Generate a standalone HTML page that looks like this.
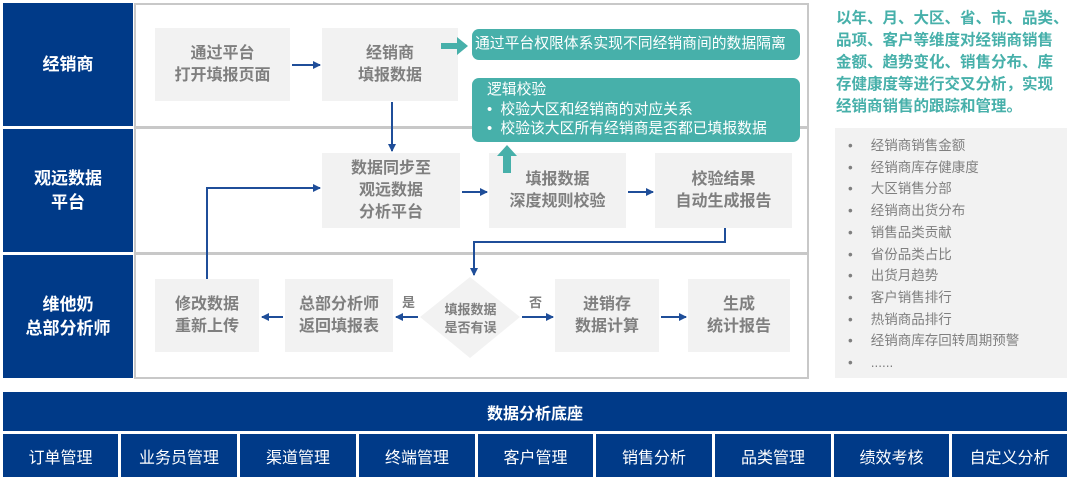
<!DOCTYPE html>
<html><head><meta charset="utf-8"><style>
body{margin:0;width:1080px;height:478px;background:#fff;position:relative;overflow:hidden;font-family:"Liberation Sans","Noto Sans CJK SC",sans-serif}
div{position:absolute;box-sizing:border-box}
.lab{background:#003a88;color:#fff;font-weight:bold;font-size:17px;display:flex;align-items:center;justify-content:center;text-align:center;line-height:24px;left:3px;width:130px}
.bx{background:#f2f2f2;color:#7f7f7f;font-weight:bold;font-size:16px;display:flex;align-items:center;justify-content:center;text-align:center;line-height:22px}
.teal{background:#47b0aa;color:#fff;font-size:14.8px;border-radius:7px}
.cell{background:#003a88;color:#fff;font-size:16px;display:flex;align-items:center;justify-content:center;top:434px;height:43px}
.li{left:848px;font-size:13.5px;color:#7f7f7f;line-height:21.7px}
</style></head><body>
<div style="left:134px;top:3px;width:675px;height:376px;border:2px solid #c8c8c8"></div>
<div style="left:134px;top:126px;width:675px;height:3px;background:#c8c8c8"></div>
<div style="left:134px;top:252px;width:675px;height:3px;background:#c8c8c8"></div>
<div class="lab" style="top:3px;height:123px">经销商</div>
<div class="lab" style="top:129px;height:123px">观远数据<br>平台</div>
<div class="lab" style="top:255px;height:123px">维他奶<br>总部分析师</div>

<div class="bx" style="left:155px;top:28px;width:135px;height:73px">通过平台<br>打开填报页面</div>
<div class="bx" style="left:322px;top:28px;width:136px;height:73px">经销商<br>填报数据</div>
<div class="bx" style="left:322px;top:153px;width:138px;height:75px">数据同步至<br>观远数据<br>分析平台</div>
<div class="bx" style="left:489px;top:153px;width:137px;height:75px">填报数据<br>深度规则校验</div>
<div class="bx" style="left:655px;top:153px;width:137px;height:75px">校验结果<br>自动生成报告</div>

<div class="teal" style="left:472px;top:29px;width:328px;height:31px;line-height:31px;padding-left:3px;white-space:nowrap">通过平台权限体系实现不同经销商间的数据隔离</div>
<div class="teal" style="left:472px;top:78px;width:328px;height:64px;line-height:19.5px;padding:3px 0 0 15px;white-space:nowrap">逻辑校验<br>•&nbsp; 校验大区和经销商的对应关系<br>•&nbsp; 校验该大区所有经销商是否都已填报数据</div>

<div class="bx" style="left:155px;top:279px;width:104px;height:73px">修改数据<br>重新上传</div>
<div class="bx" style="left:285px;top:279px;width:108px;height:73px">总部分析师<br>返回填报表</div>
<div class="bx" style="left:555px;top:279px;width:104px;height:73px">进销存<br>数据计算</div>
<div class="bx" style="left:688px;top:279px;width:102px;height:73px">生成<br>统计报告</div>

<svg style="position:absolute;left:0;top:0" width="1080" height="478">
<defs><marker id="a" markerWidth="8" markerHeight="8" refX="7" refY="4" orient="auto" markerUnits="userSpaceOnUse"><path d="M0,0L8,4L0,8z" fill="#1f4e99"/></marker></defs>
<polygon points="420,317 470,277 520,317 470,358" fill="#f2f2f2"/>
<g stroke="#1f4e99" stroke-width="2" fill="none" marker-end="url(#a)">
<line x1="292" y1="65" x2="320" y2="65"/>
<line x1="392" y1="102" x2="392" y2="151"/>
<line x1="462" y1="192" x2="487" y2="192"/>
<line x1="628" y1="192" x2="653" y2="192"/>
<polyline points="725,228 725,242 474,242 474,275"/>
<line x1="418" y1="317" x2="396" y2="317"/>
<line x1="283" y1="317" x2="262" y2="317"/>
<line x1="522" y1="317" x2="553" y2="317"/>
<line x1="661" y1="317" x2="686" y2="317"/>
<polyline points="207,279 207,188 320,188"/>
</g>
<path d="M441,43h16v-6l11,9l-11,9v-6h-16z" fill="#47b0aa"/>
<path d="M503,173v-17h-6l10,-11l10,11h-6v17z" fill="#47b0aa"/>
</svg>
<div style="left:443px;top:319px;width:55px;font-size:13px;font-weight:bold;color:#7f7f7f;text-align:center;line-height:18px;transform:translateY(-50%)">填报数据<br>是否有误</div>
<div style="left:402px;top:292px;font-size:13px;font-weight:bold;color:#7f7f7f">是</div>
<div style="left:529px;top:292px;font-size:13px;font-weight:bold;color:#7f7f7f">否</div>

<div style="left:836px;top:8px;width:244px;color:#47b0aa;font-weight:bold;font-size:15.5px;line-height:22px;white-space:nowrap">以年、月、大区、省、市、品类、<br>品项、客户等维度对经销商销售<br>金额、趋势变化、销售分布、库<br>存健康度等进行交叉分析，实现<br>经销商销售的跟踪和管理。</div>
<div style="left:835px;top:128px;width:232px;height:250px;background:#f2f2f2"></div>
<div class="li" style="top:135px">•<span style="margin-left:18px">经销商销售金额</span><br>•<span style="margin-left:18px">经销商库存健康度</span><br>•<span style="margin-left:18px">大区销售分部</span><br>•<span style="margin-left:18px">经销商出货分布</span><br>•<span style="margin-left:18px">销售品类贡献</span><br>•<span style="margin-left:18px">省份品类占比</span><br>•<span style="margin-left:18px">出货月趋势</span><br>•<span style="margin-left:18px">客户销售排行</span><br>•<span style="margin-left:18px">热销商品排行</span><br>•<span style="margin-left:18px">经销商库存回转周期预警</span><br>•<span style="margin-left:18px">......</span></div>

<div style="left:3px;top:392px;width:1064px;height:39px;background:#003a88;color:#fff;font-weight:bold;font-size:16px;display:flex;align-items:center;justify-content:center">数据分析底座</div>
<div class="cell" style="left:3px;width:115px">订单管理</div>
<div class="cell" style="left:121px;width:116px">业务员管理</div>
<div class="cell" style="left:240px;width:116px">渠道管理</div>
<div class="cell" style="left:359px;width:116px">终端管理</div>
<div class="cell" style="left:478px;width:115px">客户管理</div>
<div class="cell" style="left:596px;width:116px">销售分析</div>
<div class="cell" style="left:715px;width:116px">品类管理</div>
<div class="cell" style="left:834px;width:115px">绩效考核</div>
<div class="cell" style="left:952px;width:115px">自定义分析</div>
</body></html>
